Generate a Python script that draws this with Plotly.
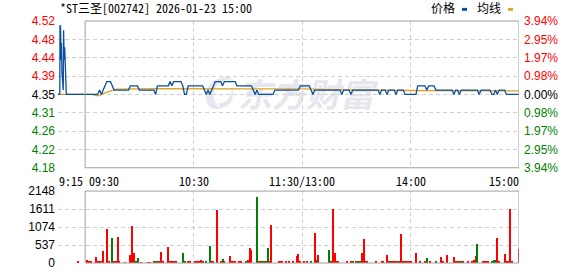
import base64
import plotly.graph_objects as go

# ---------------- data ----------------
title_text = "*ST三圣[002742] 2026-01-23 15:00"
prev_close = 4.35
max_pct = 3.94

price_tick_labels = ["4.18", "4.22", "4.26", "4.31", "4.35", "4.39", "4.44", "4.48", "4.52"]
pct_tick_labels = ["3.94%", "2.95%", "1.97%", "0.98%", "0.00%", "0.98%", "1.97%", "2.95%", "3.94%"]
vol_tick_vals = [0, 537, 1074, 1611, 2148]
vol_tick_labels = ["0", "537", "1074", "1611", "2148"]

time_labels = ["9:15", "09:30", "10:30", "11:30/13:00", "14:00", "15:00"]
time_label_minutes = [-15, 0, 60, 120, 180, 240]

# call-auction period (minutes relative to 09:30)
pre_minutes = [-15.0, -14.0, -13.9, -13.6, -13.3, -13.1, -12.8, -12.1, -11.9, -11.6, -11.3, -10.6, -10.4, -5.0]
pre_prices = [4.35, 4.35, 4.51, 4.51, 4.43, 4.47, 4.40, 4.36, 4.50, 4.43, 4.46, 4.40, 4.35, 4.35]

# one price per trading minute, 09:30 ... 15:00 (241 points)
session_prices = [
    4.35, 4.35, 4.35, 4.35, 4.35, 4.35, 4.35, 4.35, 4.36, 4.35,
    4.36, 4.37, 4.38, 4.38, 4.38, 4.37, 4.36, 4.36, 4.36, 4.36,
    4.36, 4.36, 4.36, 4.36, 4.36, 4.37, 4.37, 4.37, 4.37, 4.37,
    4.36, 4.36, 4.36, 4.36, 4.36, 4.36, 4.36, 4.36, 4.36, 4.35,
    4.37, 4.37, 4.37, 4.37, 4.37, 4.37, 4.37, 4.38, 4.37, 4.38,
    4.38, 4.38, 4.38, 4.38, 4.37, 4.35, 4.35, 4.37, 4.37, 4.37,
    4.37, 4.37, 4.37, 4.37, 4.37, 4.37, 4.36, 4.35, 4.36, 4.35,
    4.36, 4.37, 4.38, 4.38, 4.38, 4.38, 4.37, 4.38, 4.38, 4.38,
    4.38, 4.38, 4.38, 4.38, 4.37, 4.37, 4.37, 4.37, 4.37, 4.37,
    4.37, 4.37, 4.37, 4.36, 4.35, 4.36, 4.35, 4.35, 4.35, 4.35,
    4.35, 4.35, 4.35, 4.35, 4.35, 4.36, 4.36, 4.36, 4.36, 4.36,
    4.36, 4.36, 4.36, 4.36, 4.36, 4.36, 4.36, 4.36, 4.36, 4.37,
    4.37, 4.37, 4.37, 4.37, 4.37, 4.36, 4.35, 4.36, 4.36, 4.36,
    4.36, 4.36, 4.36, 4.36, 4.36, 4.36, 4.36, 4.36, 4.36, 4.36,
    4.36, 4.36, 4.35, 4.36, 4.36, 4.36, 4.36, 4.35, 4.36, 4.36,
    4.36, 4.36, 4.36, 4.36, 4.36, 4.36, 4.36, 4.36, 4.36, 4.36,
    4.36, 4.36, 4.36, 4.35, 4.36, 4.36, 4.36, 4.35, 4.36, 4.36,
    4.36, 4.36, 4.35, 4.36, 4.36, 4.36, 4.36, 4.35, 4.35, 4.35,
    4.35, 4.35, 4.35, 4.35, 4.37, 4.37, 4.37, 4.37, 4.37, 4.36,
    4.37, 4.37, 4.37, 4.37, 4.36, 4.36, 4.36, 4.36, 4.36, 4.36,
    4.36, 4.36, 4.36, 4.36, 4.35, 4.36, 4.36, 4.35, 4.36, 4.36,
    4.36, 4.36, 4.36, 4.36, 4.36, 4.36, 4.36, 4.36, 4.35, 4.36,
    4.36, 4.36, 4.36, 4.36, 4.36, 4.35, 4.35, 4.36, 4.35, 4.36,
    4.36, 4.36, 4.36, 4.35, 4.35, 4.35, 4.35, 4.35, 4.35, 4.35,
    4.35,
]

# average-price line (readings at its turning points)
avg_minutes = [-15, 4, 6, 8, 10, 13, 17, 40, 120, 137, 178, 240]
avg_values = [4.35, 4.35, 4.347, 4.347, 4.352, 4.357, 4.3625, 4.3632, 4.363, 4.361, 4.359, 4.358]

# volume bars (minute, lots, direction u=up/red d=down/green)
vol_minutes = [
    -4, 1, 2, 3, 6, 7, 8, 9, 10, 12, 13, 15, 16, 17, 18, 19, 22, 25, 26, 27,
    28, 29, 31, 35, 36, 38, 39, 40, 41, 42, 43, 46, 47, 48, 49, 50, 54, 55, 57, 58,
    61, 62, 63, 64, 65, 67, 69, 70, 71, 73, 75, 76, 77, 80, 81, 82, 83, 85, 86, 89,
    90, 91, 92, 95, 96, 97, 98, 99, 100, 101, 102, 103, 107, 108, 109, 111, 113, 115, 117, 118,
    119, 121, 123, 125, 127, 128, 129, 135, 136, 137, 138, 139, 140, 145, 147, 148, 150, 151, 152, 153,
    154, 155, 156, 161, 164, 165, 167, 168, 169, 170, 171, 172, 173, 174, 175, 176, 177, 178, 179, 180,
    183, 185, 188, 189, 191, 194, 197, 198, 200, 204, 205, 206, 207, 208, 209, 212, 214, 215, 216, 217,
    220, 221, 222, 223, 225, 226, 227, 228, 229, 232, 233, 234, 235, 236, 240,
]
vol_values = [
    30, 78, 30, 30, 175, 30, 30, 30, 370, 1020, 58, 730, 30, 30, 770, 58, 25, 245, 1090, 290,
    30, 146, 25, 25, 25, 58, 30, 30, 30, 320, 30, 470, 30, 30, 30, 30, 290, 58, 30, 30,
    30, 30, 30, 78, 30, 30, 500, 30, 30, 1575, 30, 117, 30, 204, 30, 30, 30, 30, 30, 58,
    78, 437, 380, 1983, 30, 30, 30, 30, 30, 437, 30, 1137, 30, 30, 30, 30, 30, 30, 195, 272,
    30, 30, 30, 30, 904, 78, 233, 380, 58, 1611, 290, 30, 30, 30, 30, 30, 30, 30, 30, 290,
    700, 30, 30, 58, 30, 30, 233, 30, 58, 30, 30, 30, 30, 30, 875, 30, 30, 30, 30, 30,
    290, 30, 30, 146, 30, 30, 175, 30, 233, 175, 30, 30, 30, 58, 30, 30, 30, 78, 204, 554,
    30, 30, 30, 30, 30, 78, 78, 758, 30, 262, 30, 30, 1611, 30, 408,
]
vol_dirs = [
    "u", "u", "u", "u", "u", "u", "u", "u", "u", "u", "u", "d", "u", "u", "u", "u", "u", "u", "u", "u",
    "d", "d", "u", "u", "u", "u", "d", "d", "u", "u", "u", "u", "u", "u", "u", "u", "d", "d", "u", "u",
    "u", "u", "u", "u", "u", "d", "d", "u", "u", "u", "u", "d", "u", "u", "u", "u", "u", "u", "u", "d",
    "u", "u", "u", "d", "u", "u", "d", "d", "u", "d", "u", "u", "u", "u", "u", "u", "u", "u", "u", "u",
    "u", "u", "u", "d", "u", "d", "u", "d", "u", "u", "u", "u", "u", "u", "u", "d", "u", "d", "d", "u",
    "u", "u", "u", "u", "u", "u", "u", "u", "d", "u", "u", "u", "d", "u", "u", "u", "u", "u", "u", "u",
    "u", "u", "u", "d", "u", "d", "u", "u", "u", "u", "u", "d", "u", "d", "u", "u", "u", "u", "u", "d",
    "u", "u", "u", "u", "d", "d", "d", "u", "u", "u", "u", "u", "u", "u", "u",
]

legend_labels = ["价格", "均线"]

# ---------------- styles ----------------
BLUE = "#0a4f9e"
ORANGE = "#e0a424"
RED = "#ff0000"
GREEN = "#008000"
GRID = "#d0d0d0"
BOX = "#a0a0a0"
MONO = "Noto Sans Mono CJK SC, Liberation Mono, monospace"
SANS = "Liberation Sans, Arial, sans-serif"

half = prev_close * max_pct / 100.0
y_min, y_max = prev_close - half, prev_close + half
step = half / 4.0
price_tick_vals = [prev_close + k * step for k in range(-4, 5)]


def tick_color(i):
    if i < 4:
        return GREEN
    if i > 4:
        return RED
    return "#000000"


left_text = [f'<span style="color:{tick_color(i)}">{t}</span>' for i, t in enumerate(price_tick_labels)]
right_text = [f'<span style="color:{tick_color(i)}">{t}</span>' for i, t in enumerate(pct_tick_labels)]

W, H = 578, 276
ML, MR, MT, MB = 58, 59, 21, 6
plot_h = H - MT - MB
main_bottom_px = 172
vol_top_px = 196
main_dom = [(H - MB - main_bottom_px) / plot_h, 1.0]
vol_dom = [0.0, (H - MB - vol_top_px) / plot_h]

fig = go.Figure()

fig.add_trace(go.Scatter(
    x=avg_minutes, y=avg_values, mode="lines",
    line=dict(color=ORANGE, width=1.3), xaxis="x", yaxis="y", hoverinfo="skip",
))
fig.add_trace(go.Scatter(
    x=pre_minutes + list(range(len(session_prices))), y=pre_prices + session_prices,
    mode="lines", line=dict(color=BLUE, width=1.3), xaxis="x", yaxis="y", hoverinfo="skip",
))
# invisible companion trace so the right-hand percentage axis is drawn
fig.add_trace(go.Scatter(
    x=avg_minutes, y=avg_values, mode="lines", opacity=0,
    line=dict(color=ORANGE, width=0.1), xaxis="x", yaxis="y2", hoverinfo="skip",
))
fig.add_trace(go.Bar(
    x=vol_minutes, y=vol_values, width=0.55,
    marker=dict(color=[RED if d == "u" else GREEN for d in vol_dirs], line=dict(width=0)),
    xaxis="x2", yaxis="y3", hoverinfo="skip",
))

xgrid = dict(
    range=[-15, 240], tickvals=[-15, 60, 120, 180], showticklabels=False, ticks="",
    showgrid=True, gridcolor=GRID, griddash="4px,3px", gridwidth=1, zeroline=False, showline=False,
)

fig.update_layout(
    width=W, height=H,
    margin=dict(l=ML, r=MR, t=MT, b=MB, pad=0),
    paper_bgcolor="white", plot_bgcolor="white",
    showlegend=False,
    bargap=0,
    xaxis=dict(anchor="y", **xgrid),
    xaxis2=dict(anchor="y3", **xgrid),
    yaxis=dict(
        domain=main_dom, range=[y_min, y_max], tickvals=price_tick_vals, ticktext=left_text,
        showgrid=True, gridcolor=GRID, griddash="4px,3px", zeroline=False, showline=False,
        ticks="", ticklabelstandoff=2, tickfont=dict(family=SANS, size=12),
    ),
    yaxis2=dict(
        overlaying="y", side="right", anchor="x", range=[y_min, y_max], tickvals=price_tick_vals,
        ticktext=right_text, showgrid=False, zeroline=False, showline=False, ticks="",
        ticklabelstandoff=4, tickfont=dict(family=SANS, size=12),
    ),
    yaxis3=dict(
        domain=vol_dom, anchor="x2", range=[0, 2148], tickvals=vol_tick_vals, ticktext=vol_tick_labels,
        showgrid=True, gridcolor=GRID, griddash="4px,3px", zeroline=False, showline=False,
        ticks="", ticklabelstandoff=2, tickfont=dict(family=SANS, size=12, color="#000000"),
    ),
)

# boxes around the continuous-trading area
fig.add_shape(type="rect", xref="x", yref="y domain", x0=0, x1=240, y0=0, y1=1,
              line=dict(color=BOX, width=1), layer="above")
fig.add_shape(type="rect", xref="x2", yref="y3 domain", x0=0, x1=240, y0=0, y1=1,
              line=dict(color=BOX, width=1), layer="above")

# time labels
anchors = ["left", "left", "center", "center", "center", "right"]
shifts = [-1, 2, 0, 0, 0, 2]
for lab, m, a, s in zip(time_labels, time_label_minutes, anchors, shifts):
    fig.add_annotation(x=m, xref="x", y=main_dom[0], yref="paper", text=lab, showarrow=False,
                       xanchor=a, yanchor="top", xshift=s, yshift=-2,
                       font=dict(family=MONO, size=12, color="#000000"))

# title
fig.add_annotation(x=0, xref="paper", y=1, yref="paper", text=title_text, showarrow=False,
                   xanchor="left", yanchor="bottom", yshift=3,
                   font=dict(family=MONO, size=12, color="#000000"))


def px_x(p):
    return (p - ML) / (W - ML - MR)


def px_y(p):
    return (H - MB - p) / plot_h


# legend
fig.add_annotation(x=px_x(443), xref="paper", y=1, yref="paper", text=legend_labels[0], showarrow=False,
                   xanchor="center", yanchor="bottom", yshift=3,
                   font=dict(family=MONO, size=12, color="#000000"))
fig.add_annotation(x=px_x(488.5), xref="paper", y=1, yref="paper", text=legend_labels[1], showarrow=False,
                   xanchor="center", yanchor="bottom", yshift=3,
                   font=dict(family=MONO, size=12, color="#000000"))
fig.add_shape(type="rect", xref="paper", yref="paper", x0=px_x(462), x1=px_x(467), y0=px_y(10.5), y1=px_y(7.5),
              fillcolor=BLUE, line=dict(width=0))
fig.add_shape(type="rect", xref="paper", yref="paper", x0=px_x(508), x1=px_x(513), y0=px_y(10.5), y1=px_y(7.5),
              fillcolor=ORANGE, line=dict(width=0))

# watermark (below the data)
svg = (
    '<svg xmlns="http://www.w3.org/2000/svg" width="185" height="40" viewBox="0 0 185 40">'
    '<path d="M24 4 C9 6 2 20 8 32 C10 36 16 38 21 36 C13 31 11 20 17 12 C21 8 27 6 33 6 C31 4 28 3 24 4 Z" fill="#e6e6ee"/>'
    '<path d="M18 31 C26 31 32 24 32 15 C35 24 31 34 21 36 Z" fill="#e6e6ee"/>'
    '<text x="38" y="34" font-family="Noto Sans CJK SC" font-weight="bold" font-style="italic" '
    'font-size="34" fill="#e6e6ee">东方财富</text></svg>'
)
src = "data:image/svg+xml;base64," + base64.b64encode(svg.encode("utf-8")).decode("ascii")
fig.add_layout_image(source=src, xref="paper", yref="paper", x=px_x(200), y=px_y(75),
                     sizex=185 / (W - ML - MR), sizey=40 / plot_h, xanchor="left", yanchor="top",
                     sizing="stretch", layer="below")

fig.write_html("out.html")
